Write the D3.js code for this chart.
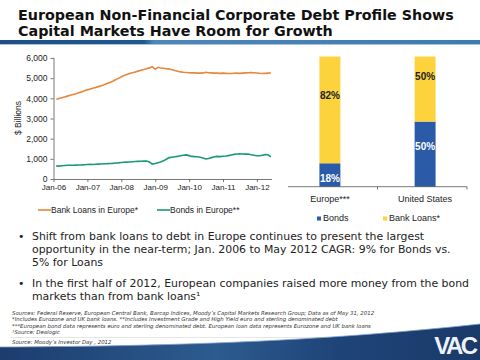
<!DOCTYPE html>
<html><head><meta charset="utf-8">
<script src="https://cdn.jsdelivr.net/npm/d3@7"></script>
<style>body{margin:0;background:#fff}svg{display:block}</style>
</head><body>
<svg id="c" width="480" height="360"></svg>
<script>
// ---- data ----
const startYear = 2006;
const loans = [
 3950,3990,4030,4070,4110,4150,4190,4230,4280,4320,4370,4420,
 4460,4500,4540,4580,4620,4670,4730,4790,4850,4920,4990,5060,
 5130,5180,5230,5270,5310,5350,5390,5430,5470,5510,5570,5440,
 5540,5500,5490,5470,5450,5420,5380,5340,5310,5290,5280,5270,
 5260,5260,5250,5250,5260,5290,5270,5260,5250,5250,5240,5250,
 5240,5230,5230,5240,5250,5240,5250,5260,5270,5280,5270,5260,
 5240,5230,5240,5250,5255];
const bonds = [
 650,640,655,670,680,680,685,690,695,700,710,720,
 730,720,730,740,745,755,760,770,775,790,800,815,
 830,835,840,855,865,875,880,885,890,840,740,770,
 810,840,900,980,1060,1080,1100,1120,1150,1180,1195,1160,
 1120,1110,1100,1080,1040,990,1020,1060,1100,1120,1110,1130,
 1140,1160,1190,1220,1240,1245,1240,1235,1240,1200,1180,1150,
 1150,1180,1210,1200,1100];
const yTicks = [0,1000,2000,3000,4000,5000,6000];
const xTickLabels = ["Jan-06","Jan-07","Jan-08","Jan-09","Jan-10","Jan-11","Jan-12"];
const lineSeries = ["Bank Loans in Europe*","Bonds in Europe**"];
const barCategories = ["Europe***","United States"];
const barSeries = ["Bonds","Bank Loans*"];
const bondsShare = [18,50];
const loansShare = [82,50];

const svg = d3.select("#c");
function monthEnd(i){ const yy = startYear + Math.floor(i/12), m = i%12; return new Date(yy, m+1, 0); }

// ---- header ----
svg.append("text").attr("x",18).attr("y",20).attr("font-family","DejaVu Sans").attr("font-weight","bold")
  .attr("font-size",14.3).attr("fill","#111").text("European Non-Financial Corporate Debt Profile Shows");
svg.append("text").attr("x",18).attr("y",36).attr("font-family","DejaVu Sans").attr("font-weight","bold")
  .attr("font-size",14.3).attr("fill","#111").text("Capital Markets Have Room for Growth");
const defs = svg.append("defs");
const hg = defs.append("linearGradient").attr("id","hg");
hg.append("stop").attr("offset","0").attr("stop-color","#1d4f86");
hg.append("stop").attr("offset","0.3").attr("stop-color","#1f5791");
hg.append("stop").attr("offset","0.32").attr("stop-color","#4f86b9");
hg.append("stop").attr("offset","1").attr("stop-color","#3e79b0");
svg.append("rect").attr("x",0).attr("y",40).attr("width",480).attr("height",4).attr("fill","url(#hg)");
svg.append("rect").attr("x",0).attr("y",44).attr("width",480).attr("height",1).attr("fill","#a9c3de");

// ---- line chart ----
const x = d3.scaleTime().domain([new Date(2006,0,1), new Date(2012,5,1)]).range([53.5,271]);
const y = d3.scaleLinear().domain([0,6000]).range([179,58]);
const font = "Liberation Sans, Arial, sans-serif";
const gy = svg.append("g").attr("transform","translate(53.5,0)")
  .call(d3.axisLeft(y).tickValues(yTicks).tickFormat(d3.format(",")).tickSize(3).tickPadding(3));
const gx = svg.append("g").attr("transform","translate(0,179)")
  .call(d3.axisBottom(x).tickValues(xTickLabels.map((s,i)=>new Date(startYear+i,0,1)))
    .tickFormat((d,i)=>xTickLabels[i]).tickSize(3).tickPadding(2));
[gx,gy].forEach(g=>{
  g.selectAll("path,line").attr("stroke","#555").attr("stroke-width",0.8);
  g.select(".domain").attr("d", g===gx ? "M53.5,0.5H272" : "M0,58H0.5V179");
  g.selectAll("text").attr("font-family",font).attr("font-size",8).attr("fill","#222");
});
gy.selectAll("text").attr("font-size",8.5);
svg.append("text").attr("transform","translate(21,118) rotate(-90)").attr("text-anchor","middle")
  .attr("font-family",font).attr("font-size",8.5).attr("fill","#222").text("$ Billions");

const lineColors = ["#e8863a","#1a9878"];
[loans,bonds].forEach((arr,k)=>{
  svg.append("path").datum(arr).attr("fill","none").attr("stroke",lineColors[k]).attr("stroke-width",1.6)
    .attr("d", d3.line().x((d,i)=>x(monthEnd(i))).y(d=>y(d)));
});
// legend
const lgx = [38,157];
lineSeries.forEach((s,k)=>{
  svg.append("line").attr("x1",lgx[k]).attr("x2",lgx[k]+13).attr("y1",210).attr("y2",210)
    .attr("stroke",lineColors[k]).attr("stroke-width",1.6);
  svg.append("text").attr("x",lgx[k]+13).attr("y",213).attr("font-family",font).attr("font-size",8.5)
    .attr("fill","#222").text(s);
});

// ---- bar chart ----
const xb = d3.scaleBand().domain(barCategories).range([288,467]).paddingInner(0.78).paddingOuter(0.33);
const yb = d3.scaleLinear().domain([0,100]).range([186.7,56.5]);
const barColors = ["#2b5aa8","#fcd23d"];
const bondLabelShift = [4,-7.5];
const loanLabelShift = [-14.5,-12.5];
barCategories.forEach((c,i)=>{
  svg.append("rect").attr("x",xb(c)).attr("width",xb.bandwidth()).attr("y",yb(bondsShare[i]))
    .attr("height",yb(0)-yb(bondsShare[i])).attr("fill",barColors[0]);
  svg.append("rect").attr("x",xb(c)).attr("width",xb.bandwidth()).attr("y",yb(100))
    .attr("height",yb(bondsShare[i])-yb(100)).attr("fill",barColors[1]);
  const cx = xb(c)+xb.bandwidth()/2;
  svg.append("text").attr("x",cx).attr("y",(yb(0)+yb(bondsShare[i]))/2+3.5+bondLabelShift[i]).attr("text-anchor","middle")
    .attr("font-family",font).attr("font-weight","bold").attr("font-size",10).attr("fill","#fff").text(bondsShare[i]+"%");
  svg.append("text").attr("x",cx).attr("y",(yb(bondsShare[i])+yb(100))/2+3.5+loanLabelShift[i]).attr("text-anchor","middle")
    .attr("font-family",font).attr("font-weight","bold").attr("font-size",10).attr("fill","#222").text(loansShare[i]+"%");
  svg.append("text").attr("x",cx).attr("y",202).attr("text-anchor","middle")
    .attr("font-family",font).attr("font-size",9).attr("fill","#222").text(c);
});
svg.append("line").attr("x1",288).attr("x2",467).attr("y1",186.7).attr("y2",186.7).attr("stroke","#555").attr("stroke-width",0.8);
[377.5,467].forEach(t=>svg.append("line").attr("x1",t).attr("x2",t).attr("y1",186.7).attr("y2",189.5).attr("stroke","#555").attr("stroke-width",0.8));
const blx = [317,383];
barSeries.forEach((s,k)=>{
  svg.append("rect").attr("x",blx[k]).attr("y",216.5).attr("width",4).attr("height",4).attr("fill",barColors[k]);
  svg.append("text").attr("x",blx[k]+6).attr("y",221).attr("font-family",font).attr("font-size",9)
    .attr("fill","#222").text(s);
});

// ---- bullets ----
const bullets = [
  ["Shift from bank loans to debt in Europe continues to present the largest",
   "opportunity in the near-term; Jan. 2006 to May 2012 CAGR: 9% for Bonds vs.",
   "5% for Loans"],
  ["In the first half of 2012, European companies raised more money from the bond",
   "markets than from bank loans\u00b9"]
];
const by = [239.5,286.5];
bullets.forEach((b,k)=>{
  svg.append("text").attr("x",18).attr("y",by[k]).attr("font-family","DejaVu Sans").attr("font-size",10.9).attr("fill","#222").text("\u2022");
  b.forEach((l,j)=>svg.append("text").attr("x",32).attr("y",by[k]+j*13).attr("font-family","DejaVu Sans")
    .attr("font-size",10.9).attr("fill","#222").text(l));
});

// ---- footnotes ----
const notes = [
 "Sources: Federal Reserve, European Central Bank, Barcap Indices, Moody\u2019s Capital Markets Research Group; Data as of May 31, 2012",
 "*Includes Eurozone and UK bank loans. **Includes Investment Grade and High Yield euro and sterling denominated debt",
 "***European bond data represents euro and sterling denominated debt. European loan data represents Eurozone and UK bank loans",
 "\u00b9Source: Dealogic"];
notes.forEach((n,i)=>svg.append("text").attr("x",12).attr("y",314.5+i*6.5).attr("font-family","DejaVu Sans")
  .attr("font-style","italic").attr("font-size",5.4).attr("fill","#333").text(n));
svg.append("line").attr("x1",10).attr("x2",400).attr("y1",337.5).attr("y2",337.5).attr("stroke","#ccc").attr("stroke-width",0.5);
svg.append("text").attr("x",12).attr("y",344).attr("font-family","DejaVu Sans").attr("font-style","italic")
  .attr("font-size",5.4).attr("fill","#333").text("Source: Moody\u2019s Investor Day , 2012");

// ---- footer band ----
const fg = defs.append("linearGradient").attr("id","fg");
fg.append("stop").attr("offset","0").attr("stop-color","#1c3d6e");
fg.append("stop").attr("offset","0.45").attr("stop-color","#2d5b8f");
fg.append("stop").attr("offset","0.7").attr("stop-color","#1f4478");
fg.append("stop").attr("offset","1").attr("stop-color","#1a3a69");
svg.append("path").attr("d","M0,347 C200,346 330,340 480,324 L480,360 L0,360 Z").attr("fill","url(#fg)");
svg.append("path").attr("d","M0,347 C200,346 330,340 480,324").attr("fill","none").attr("stroke","#7fa2c8").attr("stroke-width",0.8);
svg.append("text").attr("x",455).attr("y",354).attr("text-anchor","middle").attr("font-family",font)
  .attr("font-weight","bold").attr("font-size",24).attr("letter-spacing",-2.5).attr("fill","#eef2f7").text("VAC");
</script>
</body></html>
